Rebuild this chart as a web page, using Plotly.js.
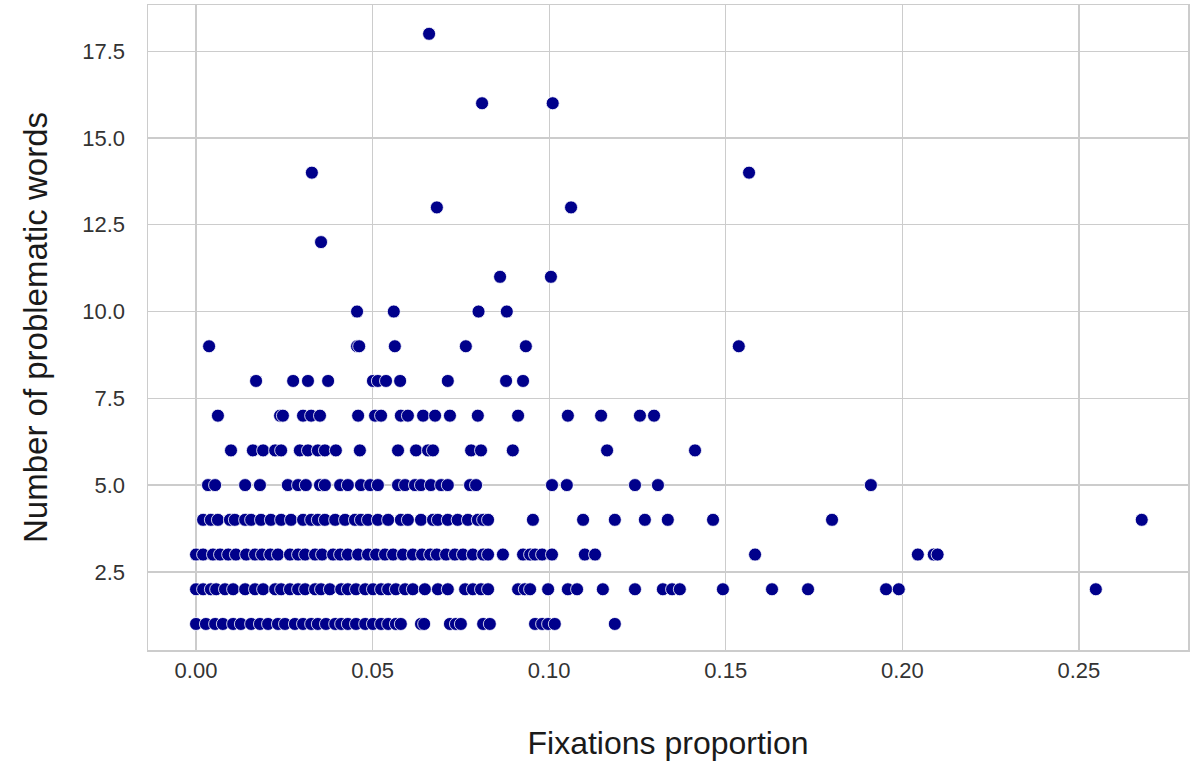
<!DOCTYPE html>
<html>
<head>
<meta charset="utf-8">
<script src="https://cdn.plot.ly/plotly-3.0.1.min.js"></script>
<style>html,body{margin:0;padding:0;background:#fff;}#chart{width:1190px;height:764px;}</style>
</head>
<body>
<div id="chart"></div>
<script>
// Fixations proportion for each number of problematic words
const words1 = [0.0000,0.0028,0.0054,0.0076,0.0105,0.0127,0.0156,0.0181,0.0204,0.0232,0.0252,0.0280,0.0303,0.0326,0.0345,0.0368,0.0394,0.0411,0.0430,0.0453,0.0479,0.0501,0.0524,0.0544,0.0566,0.0580,0.0637,0.0646,0.0719,0.0736,0.0750,0.0813,0.0832,0.0960,0.0980,0.0997,0.1016,0.1186];
const words2 = [0.0000,0.0020,0.0042,0.0057,0.0082,0.0105,0.0139,0.0167,0.0190,0.0224,0.0241,0.0266,0.0289,0.0309,0.0337,0.0354,0.0379,0.0411,0.0430,0.0453,0.0479,0.0501,0.0524,0.0544,0.0566,0.0592,0.0614,0.0648,0.0685,0.0713,0.0762,0.0784,0.0807,0.0827,0.0912,0.0931,0.0946,0.0997,0.1053,0.1079,0.1152,0.1243,0.1322,0.1348,0.1370,0.1492,0.1631,0.1733,0.1954,0.1990,0.2548];
const words3 = [0.0000,0.0020,0.0048,0.0068,0.0091,0.0113,0.0142,0.0167,0.0187,0.0210,0.0232,0.0266,0.0289,0.0309,0.0337,0.0357,0.0388,0.0408,0.0430,0.0459,0.0487,0.0510,0.0535,0.0558,0.0586,0.0614,0.0640,0.0663,0.0682,0.0708,0.0733,0.0756,0.0784,0.0813,0.0827,0.0869,0.0926,0.0946,0.0960,0.0980,0.1008,0.1101,0.1130,0.1583,0.2044,0.2089,0.2100];
const words4 = [0.0020,0.0042,0.0062,0.0096,0.0110,0.0139,0.0156,0.0184,0.0212,0.0241,0.0269,0.0303,0.0326,0.0345,0.0365,0.0394,0.0422,0.0450,0.0467,0.0487,0.0515,0.0544,0.0580,0.0600,0.0637,0.0671,0.0685,0.0713,0.0741,0.0770,0.0798,0.0813,0.0827,0.0954,0.1096,0.1186,0.1271,0.1336,0.1464,0.1801,0.2678];
const words5 = [0.0034,0.0054,0.0139,0.0181,0.0260,0.0289,0.0311,0.0351,0.0365,0.0408,0.0430,0.0467,0.0493,0.0515,0.0572,0.0592,0.0620,0.0637,0.0665,0.0694,0.0713,0.0776,0.0793,0.1008,0.1050,0.1243,0.1308,0.1911];
const words6 = [0.0099,0.0161,0.0190,0.0224,0.0241,0.0294,0.0317,0.0345,0.0365,0.0396,0.0464,0.0572,0.0623,0.0657,0.0671,0.0779,0.0807,0.0897,0.1164,0.1413];
const words7 = [0.0062,0.0238,0.0246,0.0303,0.0326,0.0351,0.0459,0.0507,0.0524,0.0580,0.0600,0.0643,0.0677,0.0719,0.0798,0.0912,0.1053,0.1147,0.1257,0.1297];
const words8 = [0.0170,0.0275,0.0317,0.0374,0.0501,0.0515,0.0538,0.0578,0.0713,0.0878,0.0926];
const words9 = [0.0037,0.0456,0.0462,0.0563,0.0764,0.0934,0.1537];
const words10 = [0.0456,0.0560,0.0800,0.0880];
const words11 = [0.0861,0.1005];
const words12 = [0.0354];
const words13 = [0.0682,0.1062];
const words14 = [0.0328,0.1566];
const words16 = [0.0810,0.1010];
const words18 = [0.0660];

const rows = [[1,words1],[2,words2],[3,words3],[4,words4],[5,words5],[6,words6],[7,words7],[8,words8],[9,words9],[10,words10],[11,words11],[12,words12],[13,words13],[14,words14],[16,words16],[18,words18]];
const xs = [], ys = [];
rows.forEach(([n, arr]) => arr.forEach(v => { xs.push(v); ys.push(n); }));

const trace = {
  type: 'scatter', mode: 'markers', x: xs, y: ys,
  marker: {color: '#00008b', size: 13, line: {color: '#ffffff', width: 0.8}},
  hoverinfo: 'x+y'
};

const FONT = 'Liberation Sans, Arial, sans-serif';
const axisCommon = {
  showgrid: true, gridcolor: '#cccccc', gridwidth: 1.3,
  zeroline: false, showline: true, linecolor: '#cccccc', linewidth: 1.5, mirror: true,
  ticks: '', tickfont: {family: FONT, size: 22, color: '#333333'}
};

const layout = {
  width: 1190, height: 764,
  margin: {l: 148, r: 2, t: 5, b: 114},
  paper_bgcolor: '#ffffff', plot_bgcolor: '#ffffff',
  showlegend: false,
  xaxis: Object.assign({}, axisCommon, {
    range: [-0.0136, 0.2809], tickmode: 'linear', tick0: 0, dtick: 0.05, tickformat: '.2f',
    ticklabelstandoff: 0,
    title: {text: 'Fixations proportion', font: {family: FONT, size: 32, color: '#1a1a1a'}, standoff: 49}
  }),
  yaxis: Object.assign({}, axisCommon, {
    range: [0.25, 18.83], tickmode: 'linear', tick0: 2.5, dtick: 2.5, tickformat: '.1f',
    ticklabelstandoff: 17,
    title: {text: 'Number of problematic words', font: {family: FONT, size: 33, color: '#1a1a1a'}, standoff: 24}
  })
};

Plotly.newPlot('chart', [trace], layout, {displayModeBar: false, staticPlot: true});
</script>
</body>
</html>
